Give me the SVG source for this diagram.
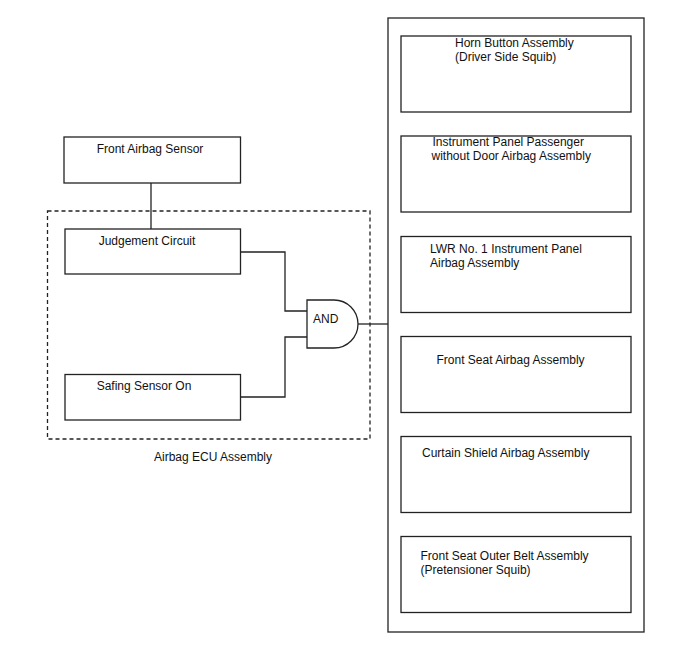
<svg xmlns="http://www.w3.org/2000/svg" width="688" height="658" viewBox="0 0 688 658">
<style>
.box{fill:#fff;stroke:#222;stroke-width:1.3}
.t{font-family:"Liberation Sans",Arial,sans-serif;font-size:12px;fill:#111}
.c{text-anchor:middle}
.w{fill:none;stroke:#222;stroke-width:1.3}
</style>
<rect width="688" height="658" fill="#fff"/>
<g id="ecu">
<rect x="47.5" y="211" width="322.5" height="228" fill="none" stroke="#222" stroke-width="1.3" stroke-dasharray="4,3"/>
<text class="t c" x="213" y="461">Airbag ECU Assembly</text>
</g>
<g id="squibs-frame">
<rect class="box" x="388" y="18" width="256" height="614"/>
</g>
<g id="connectors">
<path class="w" d="M151,183 V229"/>
<path class="w" d="M240.5,252 H285 V311 H307"/>
<path class="w" d="M240.5,397 H285 V337 H307"/>
<path class="w" d="M358,324 H388"/>
</g>
<g id="front-airbag-sensor">
<rect class="box" x="64" y="137" width="176.5" height="46"/>
<text class="t c" x="150" y="153">Front Airbag Sensor</text>
</g>
<g id="judgement-circuit">
<rect class="box" x="65" y="229" width="175.5" height="45"/>
<text class="t c" x="147" y="245">Judgement Circuit</text>
</g>
<g id="safing-sensor">
<rect class="box" x="65" y="374.5" width="175.5" height="45.5"/>
<text class="t c" x="144" y="390">Safing Sensor On</text>
</g>
<g id="and-gate">
<path class="box" d="M307,300 H334 A24,24 0 0 1 334,348 H307 Z"/>
<text class="t" x="313" y="323">AND</text>
</g>
<g id="horn-button">
<rect class="box" x="401" y="36" width="230" height="76"/>
<text class="t" x="455" y="47">Horn Button Assembly</text>
<text class="t" x="455" y="61">(Driver Side Squib)</text>
</g>
<g id="ip-passenger">
<rect class="box" x="401" y="136" width="230" height="76"/>
<text class="t" x="432.5" y="146">Instrument Panel Passenger</text>
<text class="t" x="431.5" y="160">without Door Airbag Assembly</text>
</g>
<g id="lwr-ip">
<rect class="box" x="401" y="236.5" width="230" height="76"/>
<text class="t" x="430" y="253">LWR No. 1 Instrument Panel</text>
<text class="t" x="430" y="267">Airbag Assembly</text>
</g>
<g id="front-seat-airbag">
<rect class="box" x="401" y="336.5" width="230" height="76"/>
<text class="t" x="436.5" y="364">Front Seat Airbag Assembly</text>
</g>
<g id="curtain-shield">
<rect class="box" x="401" y="436.5" width="230" height="76"/>
<text class="t" x="422" y="457">Curtain Shield Airbag Assembly</text>
</g>
<g id="outer-belt">
<rect class="box" x="401" y="536.5" width="230" height="76"/>
<text class="t" x="420.5" y="560">Front Seat Outer Belt Assembly</text>
<text class="t" x="420.5" y="574">(Pretensioner Squib)</text>
</g>
</svg>
